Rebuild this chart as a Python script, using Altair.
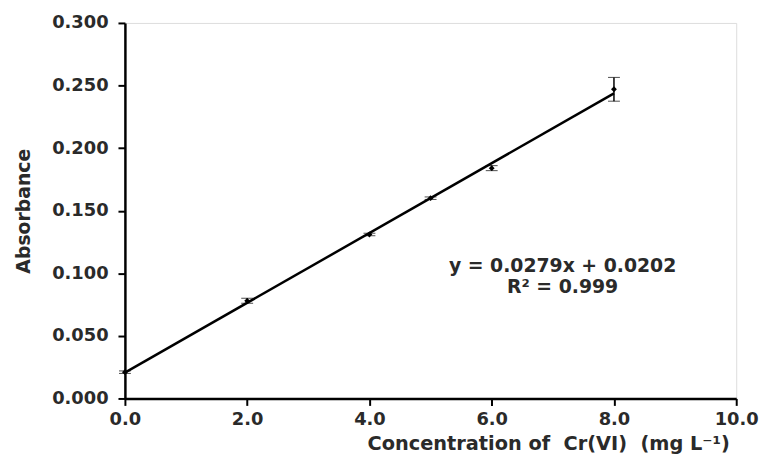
import altair as alt
import pandas as pd

conc = [0.0, 2.0, 4.0, 5.0, 6.0, 8.0]
absorb = [0.021, 0.078, 0.131, 0.160, 0.184, 0.247]
err = [0.001, 0.002, 0.001, 0.001, 0.002, 0.0095]
x_ticks = [0, 2, 4, 6, 8, 10]
y_ticks = [0.0, 0.05, 0.10, 0.15, 0.20, 0.25, 0.30]
eq_text = ["y = 0.0279x + 0.0202", "R² = 0.999"]
eq_x = [7.16, 7.16]
eq_y = [0.1056, 0.0889]

df = pd.DataFrame({"x": conc, "y": absorb, "lo": [a - e for a, e in zip(absorb, err)],
                   "hi": [a + e for a, e in zip(absorb, err)]})
df_txt = pd.DataFrame({"x": eq_x, "y": eq_y, "t": eq_text})

FONT = "DejaVu Sans"
TXT = "#2a2a2a"
YT = "Absorbance"
XT = "Concentration of \u00a0Cr(VI) \u00a0(mg L⁻¹)"

xs = alt.Scale(domain=[0, 10], nice=False)
ys = alt.Scale(domain=[0, 0.3], nice=False)

xax = alt.Axis(values=x_ticks, format=".1f", grid=False, title=XT, labelFlush=False,
               titleX=610, titleY=52, titleAlign="right", titleBaseline="alphabetic",
               domainColor="black", domainWidth=2.5, tickColor="black", tickWidth=2, tickSize=7,
               labelFont=FONT, labelFontSize=18, labelFontWeight="bold", labelColor=TXT,
               titleFont=FONT, titleFontSize=19.5, titleFontWeight="bold", titleColor=TXT, labelPadding=5)
yax = alt.Axis(values=y_ticks, format=".3f", grid=False, title=YT, labelFlush=False,
               domainColor="black", domainWidth=2.5, tickColor="black", tickWidth=2, tickSize=7,
               labelFont=FONT, labelFontSize=18, labelFontWeight="bold", labelColor=TXT,
               titleFont=FONT, titleFontSize=19, titleFontWeight="bold", titleColor=TXT,
               labelPadding=10, titlePadding=18)

base = alt.Chart(df)

line = base.transform_regression("x", "y", extent=[0, 8]).mark_line(color="black", strokeWidth=2.5).encode(
    x=alt.X("x:Q", scale=xs, axis=xax, title=XT), y=alt.Y("y:Q", scale=ys, axis=yax, title=YT))

bars = base.mark_errorbar(ticks=alt.MarkConfig(size=12, color="black", strokeWidth=1.5),
                          rule=alt.MarkConfig(color="black", strokeWidth=1.5)).encode(
    x=alt.X("x:Q", scale=xs, title=XT), y=alt.Y("lo:Q", scale=ys, title=YT), y2="hi:Q")

pts = base.mark_point(shape="diamond", filled=True, color="black", size=35, opacity=1).encode(
    x=alt.X("x:Q", scale=xs, title=XT), y=alt.Y("y:Q", scale=ys, title=YT))

txt = alt.Chart(df_txt).mark_text(font=FONT, fontSize=19, fontWeight="bold", color=TXT).encode(
    x=alt.X("x:Q", scale=xs, title=XT), y=alt.Y("y:Q", scale=ys, title=YT), text="t:N")

chart = alt.layer(line, bars, pts, txt).properties(
    width=617, height=379,
    autosize=alt.AutoSizeParams(type="none"),
    padding={"left": 118, "top": 13, "right": 24, "bottom": 57},
).configure_view(stroke=None).configure(background="white")

chart.save("out.html", embed_options={"renderer": "svg", "actions": False})
